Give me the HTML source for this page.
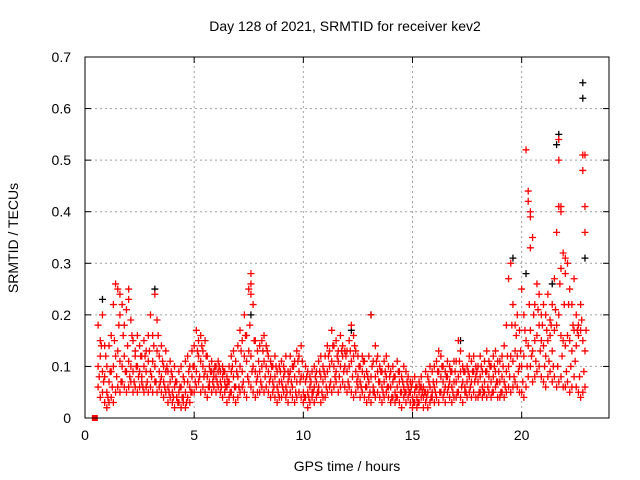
<!DOCTYPE html>
<html><head><meta charset="utf-8"><style>
body{margin:0;background:#fff}
svg{display:block;font-family:"Liberation Sans",sans-serif}
</style></head><body>
<svg id="chart" width="640" height="480" xmlns="http://www.w3.org/2000/svg">
<rect width="640" height="480" fill="#fff"/>
<g id="grid"></g>
<g id="ticks"></g>
<g id="blackpts"></g>
<g id="redpts"></g>
<rect x="85" y="57" width="524" height="361" fill="none" stroke="#000" stroke-width="1"/>
<text x="345" y="31" font-size="14" text-anchor="middle">Day 128 of 2021, SRMTID for receiver kev2</text>
<text x="347" y="471" font-size="14" text-anchor="middle">GPS time / hours</text>
<text transform="translate(18,238) rotate(-90)" font-size="14" text-anchor="middle">SRMTID / TECUs</text>
</svg>
<script>
const hours=[0.6,0.7,0.8,0.9,
1.0,1.1,1.2,1.3,1.4,1.5,1.6,1.7,1.8,1.9,
2.0,2.1,2.2,2.3,2.4,2.5,2.6,2.7,2.8,2.9,
3.0,3.1,3.2,3.3,3.4,3.5,3.6,3.7,3.8,3.9,
4.0,4.1,4.2,4.3,4.4,4.5,4.6,4.7,4.8,4.9,
5.0,5.1,5.2,5.3,5.4,5.5,5.6,5.7,5.8,5.9,
6.0,6.1,6.2,6.3,6.4,6.5,6.6,6.7,6.8,6.9,
7.0,7.1,7.2,7.3,7.4,7.5,7.6,7.7,7.8,7.9,
8.0,8.1,8.2,8.3,8.4,8.5,8.6,8.7,8.8,8.9,
9.0,9.1,9.2,9.3,9.4,9.5,9.6,9.7,9.8,9.9,
10.0,10.1,10.2,10.3,10.4,10.5,10.6,10.7,10.8,10.9,
11.0,11.1,11.2,11.3,11.4,11.5,11.6,11.7,11.8,11.9,
12.0,12.1,12.2,12.3,12.4,12.5,12.6,12.7,12.8,12.9,
13.0,13.1,13.2,13.3,13.4,13.5,13.6,13.7,13.8,13.9,
14.0,14.1,14.2,14.3,14.4,14.5,14.6,14.7,14.8,14.9,
15.0,15.1,15.2,15.3,15.4,15.5,15.6,15.7,15.8,15.9,
16.0,16.1,16.2,16.3,16.4,16.5,16.6,16.7,16.8,16.9,
17.0,17.1,17.2,17.3,17.4,17.5,17.6,17.7,17.8,17.9,
18.0,18.1,18.2,18.3,18.4,18.5,18.6,18.7,18.8,18.9,
19.0,19.1,19.2,19.3,19.4,19.5,19.6,19.7,19.8,19.9,
20.0,20.1,20.2,20.3,20.4,20.5,20.6,20.7,20.8,20.9,
21.0,21.1,21.2,21.3,21.4,21.5,21.6,21.7,21.8,21.9,
22.0,22.1,22.2,22.3,22.4,22.5,22.6,22.7,22.8,22.9];
const lowVals=[.06,.04,.05,.03,
.02,.03,.04,.03,.05,.06,.05,.07,.06,.05,
.06,.07,.05,.06,.05,.06,.07,.05,.06,.05,
.06,.05,.07,.05,.06,.05,.04,.05,.03,.04,
.03,.02,.04,.03,.02,.03,.02,.04,.03,.05,
.05,.06,.07,.05,.06,.05,.04,.06,.05,.06,
.05,.06,.05,.04,.05,.03,.04,.05,.04,.03,
.04,.05,.06,.05,.04,.07,.06,.05,.04,.05,
.05,.06,.05,.06,.05,.04,.05,.04,.03,.04,
.04,.05,.04,.03,.05,.04,.03,.04,.05,.04,
.03,.04,.02,.03,.04,.03,.04,.05,.03,.04,
.04,.05,.06,.05,.06,.07,.05,.06,.07,.06,
.05,.06,.05,.04,.05,.06,.04,.05,.04,.03,
.04,.03,.05,.04,.05,.04,.03,.04,.05,.04,
.03,.04,.03,.04,.03,.02,.04,.03,.04,.03,
.02,.03,.02,.03,.04,.02,.03,.02,.03,.04,
.03,.04,.03,.05,.04,.03,.05,.04,.03,.04,
.04,.05,.04,.03,.05,.04,.05,.04,.05,.04,
.04,.05,.04,.05,.04,.05,.04,.05,.06,.04,
.04,.05,.04,.05,.06,.05,.06,.07,.06,.05,
.05,.04,.06,.08,.10,.07,.08,.09,.10,.08,
.07,.06,.08,.09,.07,.08,.06,.07,.08,.06,
.06,.07,.05,.06,.08,.06,.05,.04,.05,.06];
const midVals=[.10,.12,.09,.08,
.05,.07,.09,.10,.12,.13,.11,.10,.12,.09,
.11,.10,.09,.12,.10,.09,.08,.10,.09,.11,
.09,.11,.10,.13,.09,.08,.07,.09,.06,.07,
.05,.06,.04,.05,.06,.04,.05,.07,.06,.08,
.10,.09,.12,.11,.10,.09,.08,.07,.09,.08,
.08,.09,.07,.08,.07,.06,.07,.09,.08,.06,
.08,.10,.09,.12,.11,.13,.12,.10,.09,.08,
.09,.10,.11,.10,.09,.08,.07,.08,.06,.07,
.07,.08,.06,.07,.09,.06,.08,.07,.09,.08,
.05,.07,.05,.06,.05,.06,.07,.06,.08,.07,
.08,.09,.10,.11,.10,.09,.11,.10,.12,.10,
.09,.10,.11,.12,.09,.08,.07,.09,.08,.06,
.07,.08,.06,.08,.09,.07,.06,.07,.08,.06,
.06,.07,.05,.06,.07,.05,.06,.05,.06,.05,
.04,.05,.04,.05,.06,.04,.05,.05,.06,.05,
.06,.07,.09,.08,.07,.06,.08,.07,.06,.07,
.07,.08,.09,.07,.06,.07,.08,.07,.09,.08,
.07,.08,.06,.07,.09,.08,.07,.08,.09,.07,
.07,.08,.07,.09,.10,.12,.11,.13,.12,.10,
.10,.12,.15,.14,.17,.13,.15,.16,.18,.15,
.14,.12,.15,.16,.13,.17,.18,.20,.16,.15,
.14,.16,.15,.13,.17,.14,.16,.17,.15,.13];
const highVals=[.18,.15,.20,.14,
.10,.14,.16,.22,.26,.25,.20,.22,.18,.21,
.25,.19,.15,.13,.16,.14,.12,.15,.13,.16,
.20,.16,.24,.19,.12,.14,.10,.13,.09,.11,
.08,.10,.07,.09,.10,.08,.11,.12,.10,.13,
.14,.17,.15,.16,.13,.15,.12,.10,.11,.09,
.10,.11,.09,.10,.09,.08,.10,.12,.13,.11,
.14,.17,.15,.20,.16,.25,.28,.22,.15,.13,
.14,.15,.16,.14,.12,.11,.10,.12,.09,.10,
.11,.10,.12,.09,.12,.10,.11,.13,.12,.14,
.08,.10,.09,.08,.09,.10,.09,.11,.12,.10,
.12,.14,.13,.17,.14,.15,.13,.16,.14,.13,
.13,.15,.18,.16,.13,.12,.10,.12,.11,.09,
.12,.20,.11,.14,.12,.10,.09,.11,.12,.10,
.09,.10,.08,.11,.09,.08,.10,.09,.08,.07,
.07,.08,.06,.07,.08,.06,.09,.08,.10,.09,
.10,.11,.13,.12,.10,.09,.11,.10,.09,.11,
.11,.15,.13,.10,.09,.10,.12,.11,.12,.10,
.10,.12,.09,.11,.13,.11,.10,.12,.13,.11,
.11,.12,.14,.18,.27,.30,.22,.18,.20,.17,
.25,.20,.52,.44,.40,.35,.22,.26,.24,.20,
.22,.20,.24,.19,.22,.27,.36,.54,.41,.32,
.31,.30,.25,.22,.27,.20,.18,.22,.51,.41];
const hoursB=[0.65,0.75,0.85,0.95,
1.05,1.15,1.25,1.35,1.45,1.55,1.65,1.75,1.85,1.95,
2.05,2.15,2.25,2.35,2.45,2.55,2.65,2.75,2.85,2.95,
3.05,3.15,3.25,3.35,3.45,3.55,3.65,3.75,3.85,3.95,
4.05,4.15,4.25,4.35,4.45,4.55,4.65,4.75,4.85,4.95,
5.05,5.15,5.25,5.35,5.45,5.55,5.65,5.75,5.85,5.95,
6.05,6.15,6.25,6.35,6.45,6.55,6.65,6.75,6.85,6.95,
7.05,7.15,7.25,7.35,7.45,7.55,7.65,7.75,7.85,7.95,
8.05,8.15,8.25,8.35,8.45,8.55,8.65,8.75,8.85,8.95,
9.05,9.15,9.25,9.35,9.45,9.55,9.65,9.75,9.85,9.95,
10.05,10.15,10.25,10.35,10.45,10.55,10.65,10.75,10.85,10.95,
11.05,11.15,11.25,11.35,11.45,11.55,11.65,11.75,11.85,11.95,
12.05,12.15,12.25,12.35,12.45,12.55,12.65,12.75,12.85,12.95,
13.05,13.15,13.25,13.35,13.45,13.55,13.65,13.75,13.85,13.95,
14.05,14.15,14.25,14.35,14.45,14.55,14.65,14.75,14.85,14.95,
15.05,15.15,15.25,15.35,15.45,15.55,15.65,15.75,15.85,15.95,
16.05,16.15,16.25,16.35,16.45,16.55,16.65,16.75,16.85,16.95,
17.05,17.15,17.25,17.35,17.45,17.55,17.65,17.75,17.85,17.95,
18.05,18.15,18.25,18.35,18.45,18.55,18.65,18.75,18.85,18.95,
19.05,19.15,19.25,19.35,19.45,19.55,19.65,19.75,19.85,19.95,
20.05,20.15,20.25,20.35,20.45,20.55,20.65,20.75,20.85,20.95,
21.05,21.15,21.25,21.35,21.45,21.55,21.65,21.75,21.85,21.95,
22.05,22.15,22.25,22.35,22.45,22.55,22.65,22.75,22.85,22.95];
const extraValsB=[.08,.14,.07,.12,
.04,.09,.06,.15,.08,.18,.07,.16,.09,.14,
.08,.16,.07,.10,.08,.12,.06,.12,.07,.13,
.08,.14,.07,.16,.07,.11,.06,.10,.05,.09,
.04,.07,.03,.06,.04,.07,.03,.09,.05,.10,
.07,.13,.08,.14,.08,.12,.06,.09,.07,.10,
.07,.10,.06,.09,.06,.07,.05,.10,.06,.09,
.06,.13,.07,.16,.08,.18,.09,.15,.07,.11,
.07,.13,.08,.13,.07,.10,.06,.10,.05,.09,
.06,.09,.05,.08,.07,.10,.05,.11,.07,.11,
.04,.08,.04,.07,.05,.08,.05,.09,.05,.09,
.06,.12,.07,.14,.08,.12,.08,.13,.09,.12,
.07,.13,.08,.14,.07,.10,.06,.11,.06,.08,
.05,.10,.05,.11,.07,.09,.05,.09,.06,.08,
.04,.08,.04,.09,.05,.07,.05,.07,.05,.06,
.03,.06,.03,.06,.05,.05,.04,.07,.04,.07,
.05,.09,.05,.10,.05,.08,.06,.09,.05,.09,
.05,.11,.06,.09,.05,.09,.06,.09,.07,.09,
.05,.10,.05,.09,.06,.10,.05,.10,.07,.09,
.05,.10,.06,.12,.08,.18,.08,.16,.09,.13,
.07,.17,.10,.22,.12,.20,.11,.21,.13,.18,
.10,.17,.11,.18,.10,.21,.10,.26,.12,.22,
.09,.22,.10,.18,.11,.17,.08,.19,.09,.17];
const extraHours=[22.8,22.9,22.9,21.7,21.8,21.7,20.4,20.4,20.3,21.8,22.0,1.6,2.0,7.6,7.6];
const extraVals=[.48,.51,.36,.50,.40,.41,.39,.33,.42,.29,.28,.24,.23,.26,.24];
const blackHours=[0.8,3.2,7.6,13.1,19.6,20.2,21.7,21.6,22.8,22.8,21.4,22.9,12.2,17.2];
const blackVals=[.23,.25,.20,.20,.31,.28,.55,.53,.65,.62,.26,.31,.17,.15];
const xTicks=[0,5,10,15,20];
const yTicks=[0,0.1,0.2,0.3,0.4,0.5,0.6,0.7];
const yTickLabels=["0","0.1","0.2","0.3","0.4","0.5","0.6","0.7"];

const NS="http://www.w3.org/2000/svg";
const X0=85,X1=609,Y0=418,Y1=57;
function xs(h){return X0+h*(X1-X0)/24;}
function ys(v){return Y0-v*(Y0-Y1)/0.7;}
function mk(tag,attrs,parent){const e=document.createElementNS(NS,tag);for(const k in attrs)e.setAttribute(k,attrs[k]);parent.appendChild(e);return e;}
const grid=document.getElementById('grid'),ticks=document.getElementById('ticks');
xTicks.forEach((t,i)=>{
  const x=xs(t);
  if(t>0){const g=mk('line',{x1:x,y1:Y0,x2:x,y2:Y1,stroke:'#a0a0a0','stroke-dasharray':'2,3'},grid);
  
  }
  mk('line',{x1:x,y1:Y0,x2:x,y2:Y0-6,stroke:'#000'},ticks);
  mk('line',{x1:x,y1:Y1,x2:x,y2:Y1+6,stroke:'#000'},ticks);
  const l=mk('text',{x:x,y:Y0+22,'font-size':14,'text-anchor':'middle'},ticks);
  l.textContent=String(t);
  
  
});
yTicks.forEach((t,i)=>{
  const y=ys(t);
  if(t>0&&t<0.7){const g=mk('line',{x1:X0,y1:y,x2:X1,y2:y,stroke:'#a0a0a0','stroke-dasharray':'2,3'},grid);
  
  }
  mk('line',{x1:X0,y1:y,x2:X0+6,y2:y,stroke:'#000'},ticks);
  mk('line',{x1:X1,y1:y,x2:X1-6,y2:y,stroke:'#000'},ticks);
  const l=mk('text',{x:X0-14,y:y+5,'font-size':14,'text-anchor':'end'},ticks);
  l.textContent=yTickLabels[i];
  
  
});
function plus(parent,h,v,color){
  const x=xs(h),y=ys(v);
  const p=mk('path',{d:`M${x-3.5},${y}H${x+3.5}M${x},${y-3.5}V${y+3.5}`,stroke:color,'stroke-width':1.3,fill:'none'},parent);
  
  
}
const bp=document.getElementById('blackpts'),rp=document.getElementById('redpts');
blackHours.forEach((h,i)=>plus(bp,h,blackVals[i],'#000'));
hours.forEach((h,i)=>{plus(rp,h,lowVals[i],'#f00');plus(rp,h,midVals[i],'#f00');plus(rp,h,highVals[i],'#f00');});
hoursB.forEach((h,i)=>plus(rp,h,extraValsB[i],'#f00'));
extraHours.forEach((h,i)=>plus(rp,h,extraVals[i],'#f00'));
const sq=mk('rect',{x:xs(0.45)-3,y:Y0-3,width:6,height:6,fill:'#f00'},rp);


</script>
</body></html>
